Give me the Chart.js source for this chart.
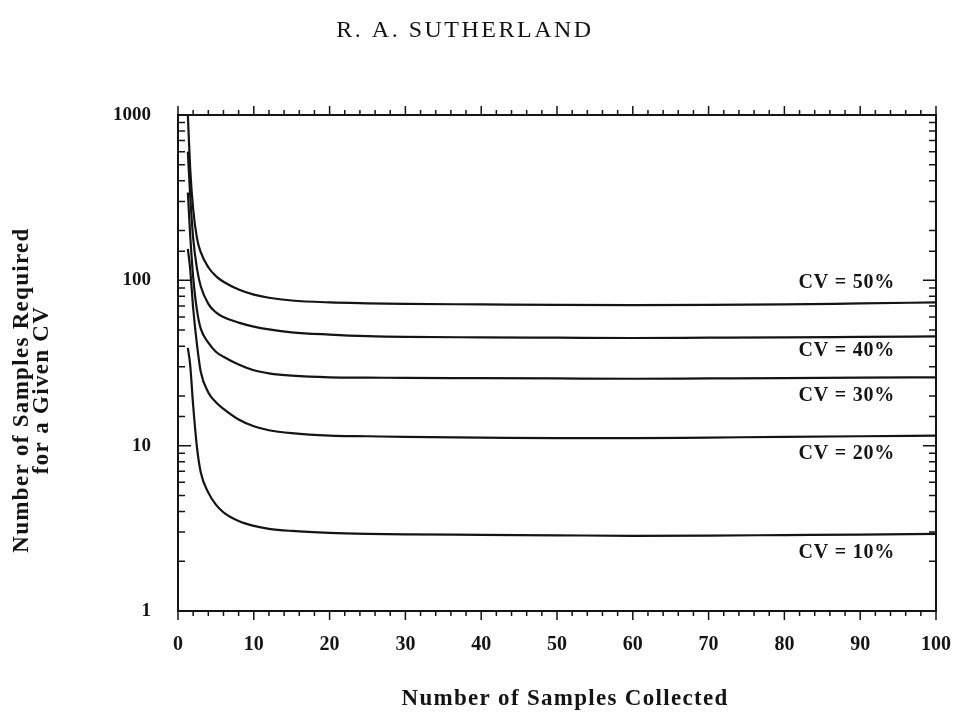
<!DOCTYPE html>
<html>
<head>
<meta charset="utf-8">
<script src="https://cdn.jsdelivr.net/npm/chart.js@4.4.1/dist/chart.umd.min.js"></script>
<style>
  html, body { margin: 0; padding: 0; background: #fff; }
</style>
</head>
<body>
<canvas id="cvChart" width="956" height="718"></canvas>
<script>
// number of samples collected (x) and samples required for each CV (y, log scale)
const samplesCollected = [1.3, 1.6, 2, 2.5, 3, 4, 5, 6, 8, 10, 12, 15, 20, 25, 30, 40, 50, 60, 70, 80, 90, 100];
const cv50 = [1000, 480, 270, 180, 148, 120, 106, 98, 88, 82, 78.5, 75.5, 73.5, 72.6, 72, 71.5, 71, 70.8, 71, 71.5, 72.5, 73.5];
const cv40 = [600, 330, 180, 118, 92, 72, 64, 60, 55.5, 52.5, 50.5, 48.5, 47, 46, 45.5, 45.2, 45, 44.8, 45, 45.2, 45.5, 45.8];
const cv30 = [340, 190, 105, 66, 51, 42, 37, 34.5, 31, 28.6, 27.4, 26.5, 25.9, 25.8, 25.7, 25.6, 25.5, 25.4, 25.5, 25.6, 25.8, 25.9];
const cv20 = [155, 118, 68, 41, 28, 21, 18.3, 16.7, 14.4, 13.1, 12.4, 11.9, 11.5, 11.4, 11.3, 11.2, 11.1, 11.1, 11.2, 11.3, 11.4, 11.5];
const cv10 = [39, 31, 17.5, 9.8, 6.9, 5.2, 4.4, 3.95, 3.5, 3.27, 3.14, 3.05, 2.97, 2.93, 2.91, 2.89, 2.87, 2.85, 2.86, 2.88, 2.9, 2.93];

const seriesNames = ['CV = 50%', 'CV = 40%', 'CV = 30%', 'CV = 20%', 'CV = 10%'];
const seriesValues = [cv50, cv40, cv30, cv20, cv10];
// where each curve's label sits (x and y in data units)
const labelX = 94.6;
const labelY = [97, 37.7, 20.1, 8.95, 2.25];

const xTicks = [0, 10, 20, 30, 40, 50, 60, 70, 80, 90, 100];
const yTicks = [1, 10, 100, 1000];

const SERIF = "'Liberation Serif', 'Times New Roman', serif";
const INK = '#141414';

function toPoints(vals){
  return samplesCollected.map((x, i) => ({ x, y: vals[i] }));
}

// box, tick marks, curve labels and titles
const decorations = {
  id: 'decorations',
  afterDraw(chart){
    const { ctx, chartArea: a, scales } = chart;
    const xs = scales.x, ys = scales.y;
    ctx.save();
    ctx.strokeStyle = INK;
    ctx.lineWidth = 2;
    ctx.strokeRect(a.left, a.top, a.right - a.left, a.bottom - a.top);

    ctx.lineWidth = 1.5;
    ctx.beginPath();
    // x ticks point outwards, every 2 units
    xs.ticks.forEach(t => {
      const px = xs.getPixelForValue(t.value);
      const len = t.value % 10 === 0 ? 9 : 5;
      ctx.moveTo(px, a.bottom); ctx.lineTo(px, a.bottom + len);
      ctx.moveTo(px, a.top); ctx.lineTo(px, a.top - len);
    });
    // y ticks point inwards
    ys.ticks.forEach(t => {
      const py = ys.getPixelForValue(t.value);
      const len = yTicks.includes(t.value) ? 13 : 7;
      ctx.moveTo(a.left, py); ctx.lineTo(a.left + len, py);
      ctx.moveTo(a.right, py); ctx.lineTo(a.right - len, py);
    });
    ctx.stroke();

    ctx.fillStyle = INK;
    ctx.letterSpacing = '0.8px';
    ctx.font = 'bold 20px ' + SERIF;
    ctx.textAlign = 'right';
    ctx.textBaseline = 'middle';
    seriesNames.forEach((name, i) => {
      ctx.fillText(name, xs.getPixelForValue(labelX), ys.getPixelForValue(labelY[i]));
    });

    // header
    ctx.letterSpacing = '2.5px';
    ctx.font = '24px ' + SERIF;
    ctx.textAlign = 'center';
    ctx.textBaseline = 'alphabetic';
    ctx.fillText('R. A. SUTHERLAND', 465, 37);

    // axis titles
    ctx.letterSpacing = '1.3px';
    ctx.font = 'bold 23px ' + SERIF;
    ctx.fillText('Number of Samples Collected', 565, 705);

    [['Number of Samples Required', 28], ['for a Given CV', 48]].forEach(([txt, bx]) => {
      ctx.save();
      ctx.translate(bx, 390);
      ctx.rotate(-Math.PI / 2);
      ctx.fillText(txt, 0, 0);
      ctx.restore();
    });

    ctx.restore();
  }
};

const ctx = document.getElementById('cvChart').getContext('2d');
const chart = new Chart(ctx, {
  type: 'line',
  data: {
    datasets: seriesValues.map((vals, i) => ({
      label: seriesNames[i],
      data: toPoints(vals),
      borderColor: INK,
      borderWidth: 2.2,
      pointRadius: 0,
      fill: false,
      cubicInterpolationMode: 'monotone'
    }))
  },
  options: {
    responsive: false,
    animation: false,
    devicePixelRatio: 1,
    layout: { padding: { top: 115, right: 20, left: 0, bottom: 0 } },
    plugins: { legend: { display: false }, tooltip: { enabled: false } },
    scales: {
      x: {
        type: 'linear',
        min: 0, max: 100,
        grid: { display: false, drawTicks: false },
        border: { display: false },
        ticks: {
          stepSize: 2,
          autoSkip: false,
          maxRotation: 0,
          padding: 22,
          color: INK,
          font: { family: SERIF, size: 20, weight: 'bold' },
          callback: v => xTicks.includes(v) ? String(v) : ''
        },
        afterFit: s => { s.height = 107; s.paddingLeft = 0; s.paddingRight = 0; }
      },
      y: {
        type: 'logarithmic',
        min: 1, max: 1000,
        grid: { display: false, drawTicks: false },
        border: { display: false },
        ticks: {
          autoSkip: false,
          padding: 27,
          color: INK,
          font: { family: SERIF, size: 19, weight: 'bold' },
          callback: v => yTicks.includes(v) ? String(v) : ''
        },
        afterFit: s => { s.width = 178; s.paddingTop = 0; s.paddingBottom = 0; }
      }
    }
  },
  plugins: [decorations]
});
</script>
</body>
</html>
